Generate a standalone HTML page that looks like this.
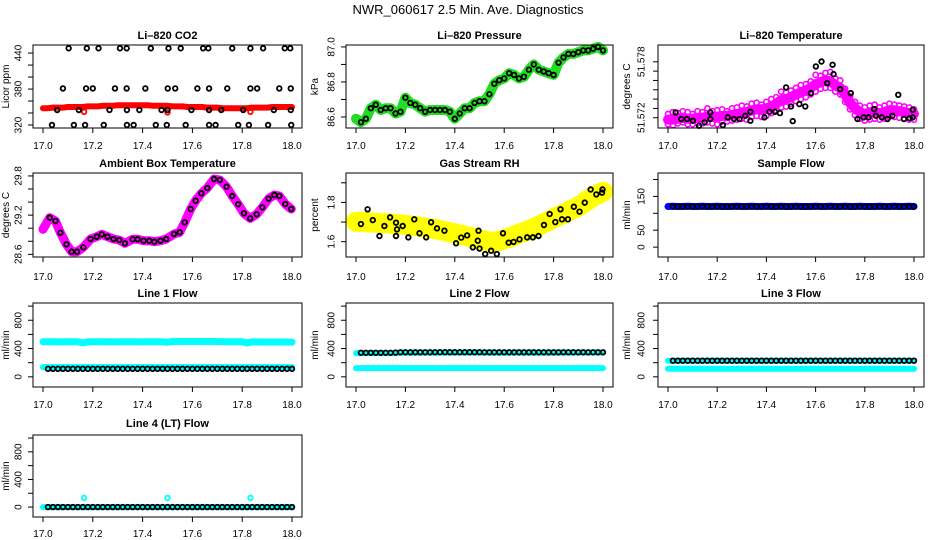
<!DOCTYPE html>
<html><head><meta charset="utf-8"><style>
html,body{margin:0;padding:0;background:#fff}
svg{display:block}
text{font-family:"Liberation Sans",sans-serif;fill:#000}
</style></head><body>
<svg id="chart" width="936" height="540" viewBox="0 0 936 540">
<rect x="0" y="0" width="936" height="540" fill="#fff"/>
<text x="468" y="14" text-anchor="middle" font-size="13">NWR_060617  2.5 Min. Ave. Diagnostics</text>
</svg>
<script>
const T51=[17.00,17.02,17.04,17.06,17.08,17.10,17.12,17.14,17.16,17.18,17.20,17.22,17.24,17.26,17.28,17.30,17.32,17.34,17.36,17.38,17.40,17.42,17.44,17.46,17.48,17.50,17.52,17.54,17.56,17.58,17.60,17.62,17.64,17.66,17.68,17.70,17.72,17.74,17.76,17.78,17.80,17.82,17.84,17.86,17.88,17.90,17.92,17.94,17.96,17.98,18.00];
const xTicks=[17.0,17.2,17.4,17.6,17.8,18.0];
const xTickLabels=["17.0","17.2","17.4","17.6","17.8","18.0"];

// CO2
const co2Red=[348,348,349,349,349,350,350,350,350,351,351,351,352,352,352,353,353,353,353,353,353,353,352,352,352,352,351,351,351,350,350,350,350,349,349,349,348,348,348,348,348,348,349,349,349,349,350,350,350,350,350];
const co2RedOutT=[17.165,17.5,17.833];
const co2RedOutV=[342,341,342];
const co2BlackT=[17.103,17.176,17.223,17.309,17.336,17.433,17.504,17.553,17.643,17.664,17.76,17.833,17.884,17.971,17.993,
17.08,17.173,17.2,17.289,17.336,17.411,17.501,17.531,17.62,17.667,17.74,17.833,17.86,17.949,17.995,
17.057,17.144,17.267,17.337,17.387,17.476,17.5,17.596,17.667,17.716,17.804,17.927,17.995,
17.036,17.124,17.169,17.244,17.337,17.364,17.453,17.497,17.573,17.667,17.693,17.784,17.827,17.904,17.997];
const co2BlackV=[448,448,448,448,448,448,448,448,448,448,448,448,448,448,448,
381,381,381,381,381,381,381,381,381,381,381,381,381,381,381,
345,345,345,345,345,345,345,345,345,345,345,345,345,
320,320,320,320,320,320,320,320,320,320,320,320,320,320,320];

// Pressure
const pressGreen=[86.59,86.57,86.59,86.65,86.67,86.64,86.65,86.65,86.62,86.63,86.71,86.68,86.67,86.65,86.63,86.64,86.64,86.64,86.64,86.63,86.59,86.62,86.65,86.65,86.68,86.69,86.69,86.73,86.79,86.81,86.82,86.85,86.84,86.82,86.83,86.87,86.90,86.87,86.86,86.85,86.84,86.91,86.94,86.96,86.96,86.97,86.98,86.98,86.99,87.00,86.98];

// Temperature
const tempMag=[51.5718,51.5718,51.5719,51.5720,51.5719,51.5719,51.5720,51.5720,51.5721,51.5721,51.5721,51.5722,51.5722,51.5723,51.5724,51.5725,51.5726,51.5728,51.5729,51.5729,51.5730,51.5732,51.5735,51.5739,51.5740,51.5742,51.5745,51.5747,51.5749,51.5752,51.5756,51.5758,51.5760,51.5759,51.5755,51.5752,51.5745,51.5736,51.5730,51.5726,51.5724,51.5725,51.5726,51.5725,51.5726,51.5728,51.5728,51.5727,51.5726,51.5725,51.5724];
const tempMagHi=[51.5724,51.5726,51.5725,51.5727,51.5726,51.5724,51.5727,51.5726,51.5730,51.5727,51.5728,51.5729,51.5727,51.5730,51.5731,51.5733,51.5732,51.5735,51.5736,51.5734,51.5737,51.5740,51.5742,51.5748,51.5747,51.5749,51.5752,51.5755,51.5756,51.5759,51.5766,51.5765,51.5768,51.5769,51.5762,51.5760,51.5751,51.5743,51.5737,51.5733,51.5731,51.5733,51.5734,51.5731,51.5733,51.5735,51.5734,51.5733,51.5732,51.5731,51.5729];
const tempMagLo=[51.5713,51.5712,51.5714,51.5715,51.5713,51.5713,51.5714,51.5714,51.5715,51.5714,51.5713,51.5716,51.5716,51.5717,51.5718,51.5719,51.5718,51.5721,51.5722,51.5721,51.5722,51.5725,51.5728,51.5731,51.5732,51.5735,51.5738,51.5740,51.5742,51.5745,51.5748,51.5751,51.5752,51.5752,51.5748,51.5745,51.5737,51.5729,51.5723,51.5719,51.5717,51.5718,51.5719,51.5718,51.5719,51.5721,51.5721,51.5720,51.5719,51.5718,51.5718];
const tempBlackT=[17.031,17.054,17.077,17.101,17.126,17.149,17.172,17.172,17.223,17.243,
17.268,17.291,17.314,17.335,17.335,17.392,17.412,17.435,17.455,17.48,
17.5,17.507,17.534,17.558,17.581,17.601,17.624,17.647,17.669,17.673,
17.7,17.743,17.77,17.795,17.815,17.838,17.845,17.869,17.892,17.912,
17.936,17.959,17.982,17.995,17.995];
const tempBlackV=[51.57257,51.57186,51.57186,51.57168,51.57114,51.5715,51.57186,51.57257,51.57121,51.57204,
51.57186,51.57186,51.57221,51.57168,51.57264,51.57204,51.57264,51.57264,51.5725,51.57525,
51.57321,51.57164,51.57346,51.57321,51.57464,51.5775,51.57803,51.57571,51.57768,51.57668,
51.57507,51.57464,51.57186,51.57204,51.57204,51.57293,51.57221,51.57204,51.57186,51.57221,
51.57446,51.57186,51.57196,51.57286,51.57204];

// Ambient box temperature
const ambT=[17.0,17.027,17.05,17.07,17.094,17.115,17.137,17.162,17.191,17.216,
17.236,17.259,17.283,17.306,17.329,17.36,17.38,17.404,17.427,17.447,
17.472,17.495,17.526,17.549,17.569,17.593,17.613,17.636,17.66,17.687,
17.71,17.737,17.76,17.784,17.807,17.832,17.858,17.881,17.906,17.929,
17.949,17.973,17.997];
const ambV=[28.983,29.161,29.11,28.931,28.753,28.64,28.64,28.707,28.834,28.87,
28.906,28.87,28.834,28.819,28.768,28.83,28.83,28.808,28.808,28.793,
28.808,28.834,28.911,28.937,29.09,29.294,29.421,29.534,29.615,29.753,
29.738,29.635,29.493,29.366,29.228,29.151,29.213,29.32,29.452,29.508,
29.493,29.37,29.294];

// Gas stream RH
const rhYellow=[1.702,1.702,1.700,1.698,1.697,1.694,1.693,1.692,1.690,1.688,1.685,1.683,1.680,1.676,1.672,1.668,1.664,1.659,1.654,1.648,1.643,1.637,1.631,1.624,1.618,1.612,1.606,1.601,1.600,1.604,1.612,1.620,1.630,1.640,1.650,1.659,1.670,1.682,1.694,1.706,1.719,1.731,1.743,1.755,1.767,1.778,1.795,1.812,1.829,1.842,1.854];
const rhBlackT=[17.02,17.047,17.068,17.095,17.115,17.138,17.162,17.166,17.162,17.189,
17.212,17.236,17.257,17.284,17.304,17.328,17.358,17.405,17.426,17.45,
17.473,17.493,17.496,17.5,17.523,17.547,17.57,17.595,17.618,17.638,
17.662,17.693,17.716,17.739,17.761,17.784,17.807,17.828,17.834,17.858,
17.882,17.905,17.926,17.95,17.973,17.996,17.998];
const rhBlackV=[1.690,1.765,1.710,1.629,1.680,1.724,1.697,1.663,1.629,1.680,
1.622,1.714,1.643,1.622,1.699,1.668,1.656,1.592,1.621,1.632,
1.571,1.605,1.656,1.565,1.537,1.554,1.537,1.643,1.595,1.599,
1.612,1.622,1.622,1.629,1.685,1.741,1.700,1.765,1.714,1.714,
1.778,1.753,1.799,1.866,1.841,1.850,1.866];

// Sample flow
const sampleBlue=[120,121,120,120,121,120,120,121,120,120,121,120,120,120,121,120,120,121,120,120,121,120,120,121,120,120,121,120,120,120,121,120,120,121,120,120,121,120,120,121,120,120,120,121,120,120,121,120,120,121,120];
const sampleBlack=[120,120,120,120,120,120,120,120,120,120,120,120,120,120,120,120,120,120,120,120,120,120,120,120,120,120,120,120,120,120,120,120,120,120,120,120,120,120,120,120,120,120,120,120,120,120,120,120,120,120,120];

// Line flows
const line1CyanHi=[495,496,495,494,495,496,495,495,480,494,495,496,495,495,494,495,496,495,495,494,495,495,496,495,494,490,500,500,499,500,500,499,500,500,499,498,498,497,497,496,495,480,494,494,493,493,492,492,492,491,491];
const line1CyanLo=[137,137,137,137,137,137,137,137,137,137,137,137,137,137,137,137,137,137,137,137,137,137,137,137,137,137,137,137,137,137,137,137,137,137,137,137,137,137,137,137,137,137,137,137,137,137,137,137,137,137,137];
const line1Black=[113,113,113,113,113,113,113,113,113,113,113,113,113,113,113,113,113,113,113,113,113,113,113,113,113,113,113,113,113,113,113,113,113,113,113,113,113,113,113,113,113,113,113,113,113,113,113,113,113,113,113];
const line2CyanHi=[335,335,335,335,335,335,335,335,335,340,340,340,340,340,340,340,342,342,342,342,342,342,342,342,342,342,340,340,340,340,340,340,340,340,340,340,340,340,340,340,340,340,342,342,342,342,342,342,342,342,342];
const line2CyanLo=[124,124,124,124,124,124,124,124,124,124,124,124,124,124,124,124,124,124,124,124,124,124,124,124,124,124,124,124,124,124,124,124,124,124,124,124,124,124,124,124,124,124,124,124,124,124,124,124,124,124,124];
const line2Black=[340,340,340,340,340,340,340,340,343,347,347,347,347,347,347,347,347,348,348,348,348,348,348,348,348,348,347,347,347,347,347,347,347,347,347,347,347,347,347,347,347,347,347,347,347,347,347,347,347,347,347];
const line3CyanHi=[228,228,228,228,228,228,228,228,228,228,228,228,228,228,228,228,228,228,228,228,228,228,228,228,228,228,228,228,228,228,228,228,228,228,228,228,228,228,228,228,228,228,228,228,228,228,228,228,228,228,228];
const line3CyanLo=[114,114,114,114,114,114,114,114,114,114,114,114,114,114,114,114,114,114,114,114,114,114,114,114,114,114,114,114,114,114,114,114,114,114,114,114,114,114,114,114,114,114,114,114,114,114,114,114,114,114,114];
const line3Black=[228,228,228,228,228,228,228,228,228,228,228,228,228,228,228,228,228,228,228,228,228,228,228,228,228,228,228,228,228,228,228,228,228,228,228,228,228,228,228,228,228,228,228,228,228,228,228,228,228,228,228];
const line4Cyan=[0,0,0,0,0,0,0,0,0,0,0,0,0,0,0,0,0,0,0,0,0,0,0,0,0,0,0,0,0,0,0,0,0,0,0,0,0,0,0,0,0,0,0,0,0,0,0,0,0,0,0];
const line4Black=[0,0,0,0,0,0,0,0,0,0,0,0,0,0,0,0,0,0,0,0,0,0,0,0,0,0,0,0,0,0,0,0,0,0,0,0,0,0,0,0,0,0,0,0,0,0,0,0,0,0,0];
const line4OutT=[17.165,17.5,17.833];
const line4OutV=[133,133,133];

const NS='http://www.w3.org/2000/svg';
const svg=document.getElementById('chart');
function mk(tag,attrs,parent){const e=document.createElementNS(NS,tag);for(const k in attrs)e.setAttribute(k,attrs[k]);(parent||svg).appendChild(e);return e;}

const COLS=[{l:33,r:302,x0:43,x1:292,yt:18,yl:9},{l:346,r:613,x0:356,x1:603,yt:331,yl:318},{l:658,r:924,x0:668,x1:914,yt:641,yl:630}];
const ROWS=[{t:45,b:128,title:39,xl:149},{t:173,b:257,title:167,xl:280},{t:303,b:387,title:297,xl:408},{t:435,b:517,title:427,xl:537}];

function panel(name,col,row,title,ylab,lo,hi,ticks,labels){
  const C=COLS[col],R=ROWS[row];
  const g=mk('g',{});
  
  
  const xs=v=>C.x0+(v-17)*(C.x1-C.x0);
  const ys=v=>R.b-(v-lo)/(hi-lo)*(R.b-R.t);
  const tt=mk('text',{x:(C.l+C.r)/2,y:R.title,'text-anchor':'middle','font-size':11,'font-weight':'bold'},g);
  tt.textContent=title;
  
  
  const yl=mk('text',{x:C.yl,y:(R.t+R.b)/2,'text-anchor':'middle','font-size':10,transform:`rotate(-90 ${C.yl} ${(R.t+R.b)/2})`},g);
  yl.textContent=ylab;
  
  
  const ax=mk('g',{stroke:'#000','stroke-width':1},g);
  
  
  xTicks.forEach((v,i)=>{
    mk('line',{x1:xs(v),x2:xs(v),y1:R.b,y2:R.b+5},ax);
    const t=mk('text',{x:xs(v),y:R.xl,'text-anchor':'middle','font-size':10,stroke:'none'},g);
    t.textContent=xTickLabels[i];
    
    
  });
  ticks.forEach(v=>{mk('line',{x1:C.l-5,x2:C.l,y1:ys(v),y2:ys(v)},ax);});
  labels.forEach(v=>{
    const t=mk('text',{x:C.yt,y:ys(v),'text-anchor':'middle','font-size':10,transform:`rotate(-90 ${C.yt} ${ys(v)})`,dy:'0.35em'},g);
    t.textContent=String(v);
    
    
  });
  const plot=mk('g',{},g);
  
  
  mk('rect',{x:C.l,y:R.t,width:C.r-C.l,height:R.b-R.t,fill:'none',stroke:'#000','stroke-width':1},g);
  return {xs,ys,plot};
}
function band(P,ts,vs,color,w,name){
  const pts=ts.map((t,i)=>P.xs(t).toFixed(1)+','+P.ys(vs[i]).toFixed(1)).join(' ');
  const pl=mk('polyline',{points:pts,fill:'none',stroke:color,'stroke-width':w,'stroke-linejoin':'round','stroke-linecap':'round'},P.plot);
  
  
}
function dots(P,ts,vs,color,name,r,sw){
  const g=mk('g',{},P.plot);
  
  
  ts.forEach((t,i)=>{mk('circle',{cx:P.xs(t),cy:P.ys(vs[i]),r:r||2.3,fill:'none',stroke:color,'stroke-width':sw||1.8},g);});
}
const T50=T51.slice(1);

// Row 1
let P=panel('co2',0,0,'Li\u2013820 CO2','Licor ppm',315,453.5,[320,340,360,380,400,420,440],[320,380,440]);
band(P,T51,co2Red,'#ff0000',6,'co2-red-series');
dots(P,co2RedOutT,co2RedOutV,'#ff0000','co2-red-outliers');
dots(P,co2BlackT,co2BlackV,'#000','co2-black-series');

P=panel('pressure',1,0,'Li\u2013820 Pressure','kPa',86.537,87.011,[86.6,86.7,86.8,86.9,87.0],['86.6','86.8','87.0']);
band(P,T51,pressGreen,'#22dd22',10,'pressure-green-series');
dots(P,T50,pressGreen.slice(1),'#000','pressure-black-series');

P=panel('temperature',2,0,'Li\u2013820 Temperature','degrees C',51.5709,51.5798,[51.572,51.573,51.574,51.575,51.576,51.577,51.578],['51.572','51.578']);
band(P,T51,tempMag,'#ff00ff',10,'temperature-magenta-series');
dots(P,T51,tempMagHi,'#ff00ff','temperature-magenta-upper',2.6,1.6);
dots(P,T51,tempMagLo,'#ff00ff','temperature-magenta-lower',2.6,1.6);
dots(P,tempBlackT,tempBlackV,'#000','temperature-black-series');

// Row 2
P=panel('ambient',0,1,'Ambient Box Temperature','degrees C',28.559,29.845,[28.6,28.8,29.0,29.2,29.4,29.6,29.8],['28.6','29.2','29.8']);
band(P,ambT,ambV,'#ff00ff',9,'ambient-magenta-series');
dots(P,ambT.slice(1),ambV.slice(1),'#000','ambient-black-series');

P=panel('rh',1,1,'Gas Stream RH','percent',1.522,1.95,[1.6,1.7,1.8,1.9],['1.6','1.8']);
band(P,T51,rhYellow,'#ffff00',20,'rh-yellow-series');
dots(P,rhBlackT,rhBlackV,'#000','rh-black-series');

P=panel('sample-flow',2,1,'Sample Flow','ml/min',-29.2,219.2,[0,50,100,150,200],[0,50,150]);
band(P,T51,sampleBlue,'#0000ff',7,'sample-blue-series');
dots(P,T50,sampleBlack.slice(1),'#000','sample-black-series');

// Row 3
const fT=[0,200,400,600,800,1000],fL=[0,400,800];
P=panel('line1-flow',0,2,'Line 1 Flow','ml/min',-144,1044,fT,fL);
band(P,T51,line1CyanHi,'#00ffff',7,'line1-cyan-high');
band(P,T51,line1CyanLo,'#00ffff',6,'line1-cyan-low');
dots(P,T50,line1Black.slice(1),'#000','line1-black-series');

P=panel('line2-flow',1,2,'Line 2 Flow','ml/min',-144,1044,fT,fL);
band(P,T51,line2CyanHi,'#00ffff',6,'line2-cyan-high');
band(P,T51,line2CyanLo,'#00ffff',6,'line2-cyan-low');
dots(P,T50,line2Black.slice(1),'#000','line2-black-series');

P=panel('line3-flow',2,2,'Line 3 Flow','ml/min',-144,1044,fT,fL);
band(P,T51,line3CyanHi,'#00ffff',6,'line3-cyan-high');
band(P,T51,line3CyanLo,'#00ffff',6,'line3-cyan-low');
dots(P,T50,line3Black.slice(1),'#000','line3-black-series');

// Row 4
P=panel('line4-flow',0,3,'Line 4 (LT) Flow','ml/min',-144,1044,fT,fL);
band(P,T51,line4Cyan,'#00ffff',6,'line4-cyan-series');
dots(P,line4OutT,line4OutV,'#00ffff','line4-cyan-outliers');
dots(P,T50,line4Black.slice(1),'#000','line4-black-series');
</script>
</body></html>
